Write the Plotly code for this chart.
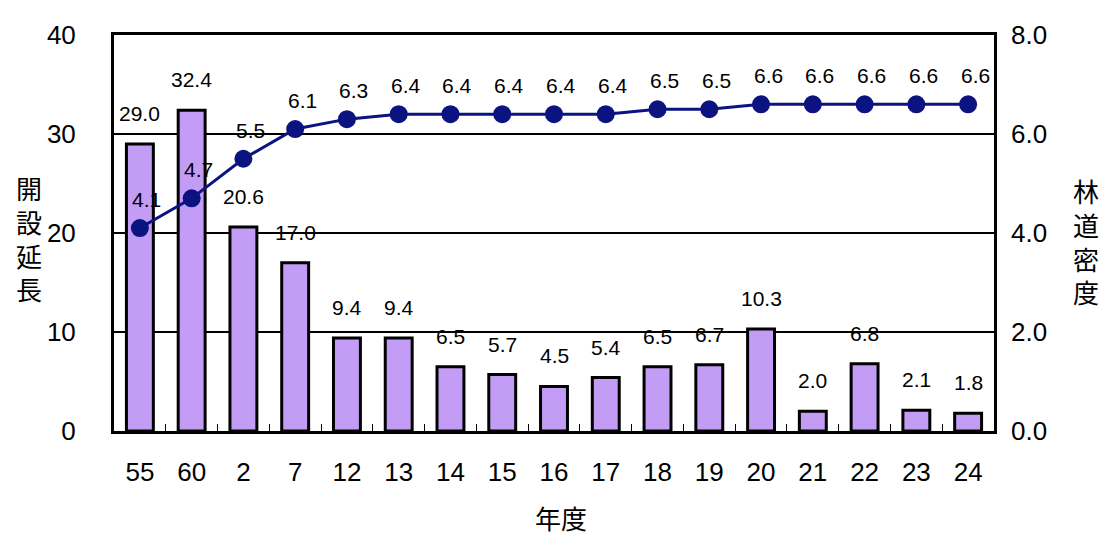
import plotly.graph_objects as go

years = ["55", "60", "2", "7", "12", "13", "14", "15", "16", "17", "18", "19", "20", "21", "22", "23", "24"]
length_vals = [29.0, 32.4, 20.6, 17.0, 9.4, 9.4, 6.5, 5.7, 4.5, 5.4, 6.5, 6.7, 10.3, 2.0, 6.8, 2.1, 1.8]
density_vals = [4.1, 4.7, 5.5, 6.1, 6.3, 6.4, 6.4, 6.4, 6.4, 6.4, 6.5, 6.5, 6.6, 6.6, 6.6, 6.6, 6.6]
left_ticks = [0, 10, 20, 30, 40]
right_ticks = [0, 2, 4, 6, 8]

num_font = "Liberation Sans, Arial, sans-serif"
cjk_font = "Noto Sans CJK JP, sans-serif"

fig = go.Figure()
fig.add_trace(go.Bar(
    x=years, y=length_vals,
    marker=dict(color="#c39cf6", line=dict(color="black", width=3)),
    width=0.52, yaxis="y", showlegend=False, hoverinfo="skip",
))
fig.add_trace(go.Scatter(
    x=years, y=density_vals, mode="lines+markers",
    line=dict(color="#0b1380", width=3),
    marker=dict(color="#0b1380", size=18, symbol="circle"),
    yaxis="y2", showlegend=False, hoverinfo="skip",
))

annotations = []
for i, v in enumerate(length_vals):
    annotations.append(dict(x=i, y=v, xref="x", yref="y", text=f"{v:.1f}", showarrow=False,
                            yanchor="bottom", yshift=17,
                            font=dict(family=num_font, size=21, color="black")))
for i, v in enumerate(density_vals):
    annotations.append(dict(x=i, y=v, xref="x", yref="y2", text=f"{v:.1f}", showarrow=False,
                            yanchor="bottom", yshift=15, xshift=7,
                            font=dict(family=num_font, size=21, color="black")))

# page offset compensation (body margin of the rendered page)
ox, oy = 6, 7
W, H = 1110, 534
ml, mr, mt, mb = 112 - ox, 118 + ox, 27 - oy, 104 + oy
pw, ph = W - ml - mr, H - mt - mb


def px_to_paper(x, y):
    return (x - ox - ml) / pw, (H - mb - (y - oy)) / ph


for txt, (px, py), size in [("開<br>設<br>延<br>長", (27, 234), 26),
                            ("林<br>道<br>密<br>度", (1084, 237), 26),
                            ("年度", (559, 518), 26)]:
    ax, ay = px_to_paper(px, py)
    annotations.append(dict(x=ax, y=ay, xref="paper", yref="paper", text=txt, showarrow=False,
                            xanchor="center", yanchor="middle",
                            font=dict(family=cjk_font, size=size, color="black")))

fig.update_layout(
    width=W, height=H,
    margin=dict(l=ml, r=mr, t=mt, b=mb),
    paper_bgcolor="white", plot_bgcolor="white",
    annotations=annotations,
    xaxis=dict(
        type="category", tickson="boundaries", ticks="inside", ticklen=7, tickcolor="black", tickwidth=1,
        showline=True, linecolor="black", linewidth=3, mirror=True,
        tickfont=dict(family=num_font, size=26, color="black"), tickangle=0,
        ticklabelstandoff=16,
        showgrid=False, range=[-0.5, len(years) - 0.5],
    ),
    yaxis=dict(
        range=[0, 40], tickvals=left_ticks, ticks="",
        showgrid=True, gridcolor="black", gridwidth=1.5,
        showline=True, linecolor="black", linewidth=3, mirror=True,
        tickfont=dict(family=num_font, size=26, color="black"),
        ticklabelstandoff=30, zeroline=False,
    ),
    yaxis2=dict(
        range=[0, 8], tickvals=right_ticks, ticktext=[f"{t:.1f}" for t in right_ticks],
        overlaying="y", side="right", showgrid=False, ticks="",
        tickfont=dict(family=num_font, size=26, color="black"),
        ticklabelstandoff=16, zeroline=False,
    ),
)

fig.write_html("out.html")
